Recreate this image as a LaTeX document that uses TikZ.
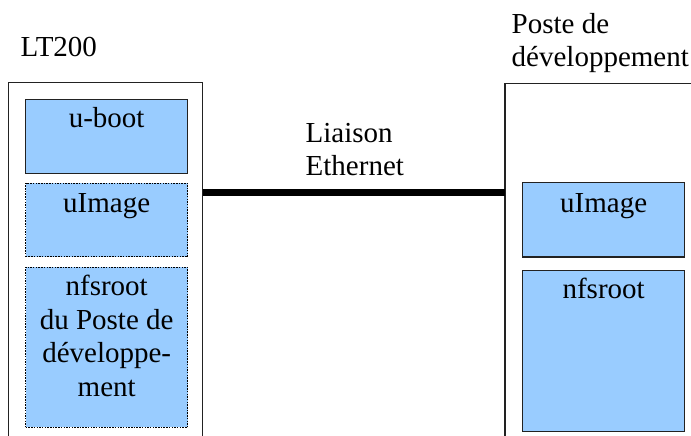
\documentclass[tikz,border=0pt]{standalone}
\usepackage{fontspec}
\setmainfont{Liberation Serif}
\definecolor{boxblue}{HTML}{99CCFF}
\definecolor{edge}{HTML}{222222}
\begin{document}
\begin{tikzpicture}[x=1pt,y=-1pt,
  lbl/.style={font=\fontsize{29}{33.5}\selectfont, inner sep=0pt, align=center},
  tag/.style={font=\fontsize{29}{33}\selectfont, inner sep=0pt, align=left},
  part/.style={anchor=north west, inner sep=0pt, minimum width=162pt, fill=boxblue},
  solidbox/.style={part, draw=edge, line width=1.3pt},
  dotbox/.style={part, draw=black, line width=1.4pt, dash pattern=on 1.5pt off 1.2pt},
  frame/.style={draw=edge, line width=1.4pt},
  link/.style={line width=6.7pt, line cap=butt}]
\useasboundingbox (0,0) rectangle (691,436);

% machine frames (open at the bottom)
\coordinate (ltbl) at (8.7,440);
\coordinate (lttl) at (8.7,82.3);
\coordinate (lttr) at (202.7,82.3);
\coordinate (ltbr) at (202.7,440);
\draw[frame] (ltbl) -- (lttl) -- (lttr) -- (ltbr);

\coordinate (pcbl) at (505,440);
\coordinate (pctl) at (505,83.3);
\coordinate (pctr) at (695,83.3);
\draw[frame] (pcbl) -- (pctl) -- (pctr);

% frame titles
\node[tag, anchor=base west] (lttitle) at (20.5,57) {LT200};
\node[tag, anchor=north west] (pctitle) at (511.5,13.3) {Poste de\\développement};

% LT200 contents
\node[solidbox, minimum height=74pt] (uboot) at (25,99) {};
\node[lbl, anchor=base] (ubootlbl) at ([yshift=-28pt]uboot.north) {u-boot};
\node[dotbox, minimum height=73.5pt] (limg) at (25,182.5) {};
\node[lbl, anchor=base] (limglbl) at ([yshift=-29.5pt]limg.north) {uImage};
\node[dotbox, minimum height=160pt] (lnfs) at (25,266.7) {};
\node[lbl, anchor=north] (lnfslbl) at ([yshift=-8.6pt]lnfs.north) {nfsroot\\du Poste de\\développe-\\ment};

% development host contents
\node[solidbox, minimum height=74.5pt] (rimg) at (522,181.7) {};
\node[lbl, anchor=base] (rimglbl) at ([yshift=-30.3pt]rimg.north) {uImage};
\node[solidbox, minimum height=160.7pt] (rnfs) at (522,270) {};
\node[lbl, anchor=base] (rnfslbl) at ([yshift=-28pt]rnfs.north) {nfsroot};

% Ethernet link
\coordinate (ethA) at (202.7,192.7);
\coordinate (ethB) at (505,192.7);
\draw[link] (ethA) -- (ethB);
\node[tag, anchor=north west] (ethlbl) at (305.5,123.3) {Liaison\\Ethernet};
\end{tikzpicture}
\end{document}
